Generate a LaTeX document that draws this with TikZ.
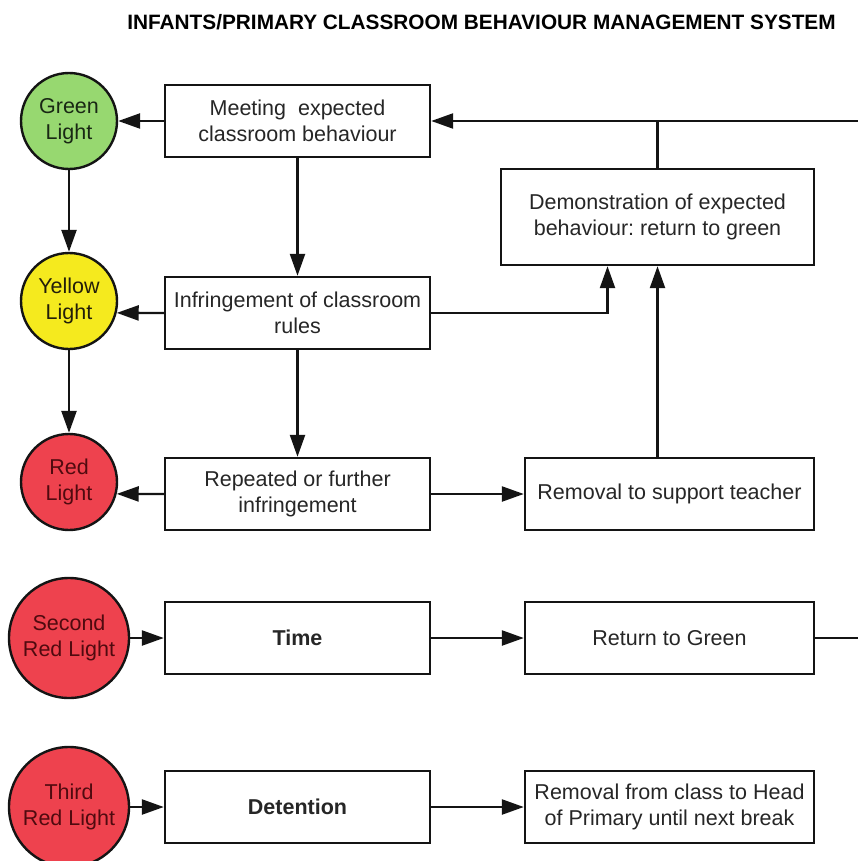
\documentclass[tikz,border=0pt]{standalone}
\usepackage{fontspec}
\setmainfont{Liberation Sans}
\usetikzlibrary{arrows.meta}
\frenchspacing
\definecolor{greenL}{RGB}{151,216,112}
\definecolor{yellowL}{RGB}{245,234,30}
\definecolor{redL}{RGB}{238,66,78}
\definecolor{greenT}{RGB}{25,40,20}
\definecolor{yellowT}{RGB}{35,30,10}
\definecolor{redT}{RGB}{80,10,15}
\definecolor{lineC}{RGB}{20,20,20}
\begin{document}
\begin{tikzpicture}[x=1pt,y=-1pt,
  every node/.style={font=\fontsize{21.5}{26}\selectfont\frenchspacing, text=black!85},
  stepbox/.style={draw=lineC, line width=2.4pt, rectangle, inner sep=0pt, align=center, fill=white, minimum width=265pt, minimum height=72pt},
  rbox/.style={stepbox, minimum width=289pt},
  light/.style={draw=lineC, circle, line width=2.4pt, inner sep=0pt, align=center, minimum size=96pt},
  biglight/.style={light, minimum size=120pt},
  conn/.style={draw=lineC, line width=2.4pt, -{Triangle[length=22pt,width=15pt]}},
  plainline/.style={draw=lineC, line width=2.4pt}
]
\useasboundingbox (0,0) rectangle (858,861);
\clip (0,0) rectangle (858,861);
\fill[white] (0,0) rectangle (858,861);

\node[font=\fontsize{20.8}{24}\selectfont\bfseries, text=black] (title) at (481.5,22) {INFANTS/PRIMARY CLASSROOM BEHAVIOUR MANAGEMENT SYSTEM};

% lights
\node[light, fill=greenL, text=greenT] (g) at (69,121) {Green\\Light};
\node[light, fill=yellowL, text=yellowT] (y) at (69,301) {Yellow\\Light};
\node[light, fill=redL, text=redT] (r) at (69,482) {Red\\Light};
\node[biglight, fill=redL, text=redT] (r2) at (69,638) {Second\\Red Light};
\node[biglight, fill=redL, text=redT] (r3) at (69,807) {Third\\Red Light};

% boxes
\node[stepbox] (meet) at (297.5,121) {Meeting\ \ expected\\classroom behaviour};
\node[stepbox] (infr) at (297.5,313) {Infringement of classroom\\rules};
\node[stepbox] (rep) at (297.5,494) {Repeated or further\\infringement};
\node[stepbox] (time) at (297.5,638) {\bfseries Time};
\node[stepbox] (det) at (297.5,807) {\bfseries Detention};
\node[stepbox, minimum width=313pt, minimum height=96pt] (demo) at (657.5,217) {Demonstration of expected\\behaviour: return to green};
\node[rbox] (remsup) at (669.5,494) {Removal to support teacher};
\node[rbox] (ret) at (669.5,638) {Return to Green};
\node[rbox] (remhead) at (669.5,807) {Removal from class to Head\\of Primary until next break};

\coordinate (rt) at (858,121);
\coordinate (rt2) at (858,638);

% connectors
\draw[conn] (meet.west) -- (g.east);
\draw[conn] (rt) -- (meet.east);
\draw[plainline] (demo.north) -- (demo.north |- rt);
\draw[conn] (g.south) -- (y.north);
\draw[conn] (y.south) -- (r.north);
\draw[conn] (meet.south) -- (infr.north);
\draw[conn] (infr.south) -- (rep.north);
\draw[conn] (infr.west) -- (y.-14.5);
\draw[conn] (rep.west) -- (r.-14.5);
\draw[conn] (infr.east) -| ([xshift=-50pt]demo.south);
\draw[conn] (demo.south |- remsup.north) -- (demo.south);
\draw[conn] (rep.east) -- (remsup.west);
\draw[conn] (r2.east) -- (time.west);
\draw[conn] (time.east) -- (ret.west);
\draw[plainline] (ret.east) -- (rt2);
\draw[conn] (r3.east) -- (det.west);
\draw[conn] (det.east) -- (remhead.west);
\end{tikzpicture}
\end{document}
